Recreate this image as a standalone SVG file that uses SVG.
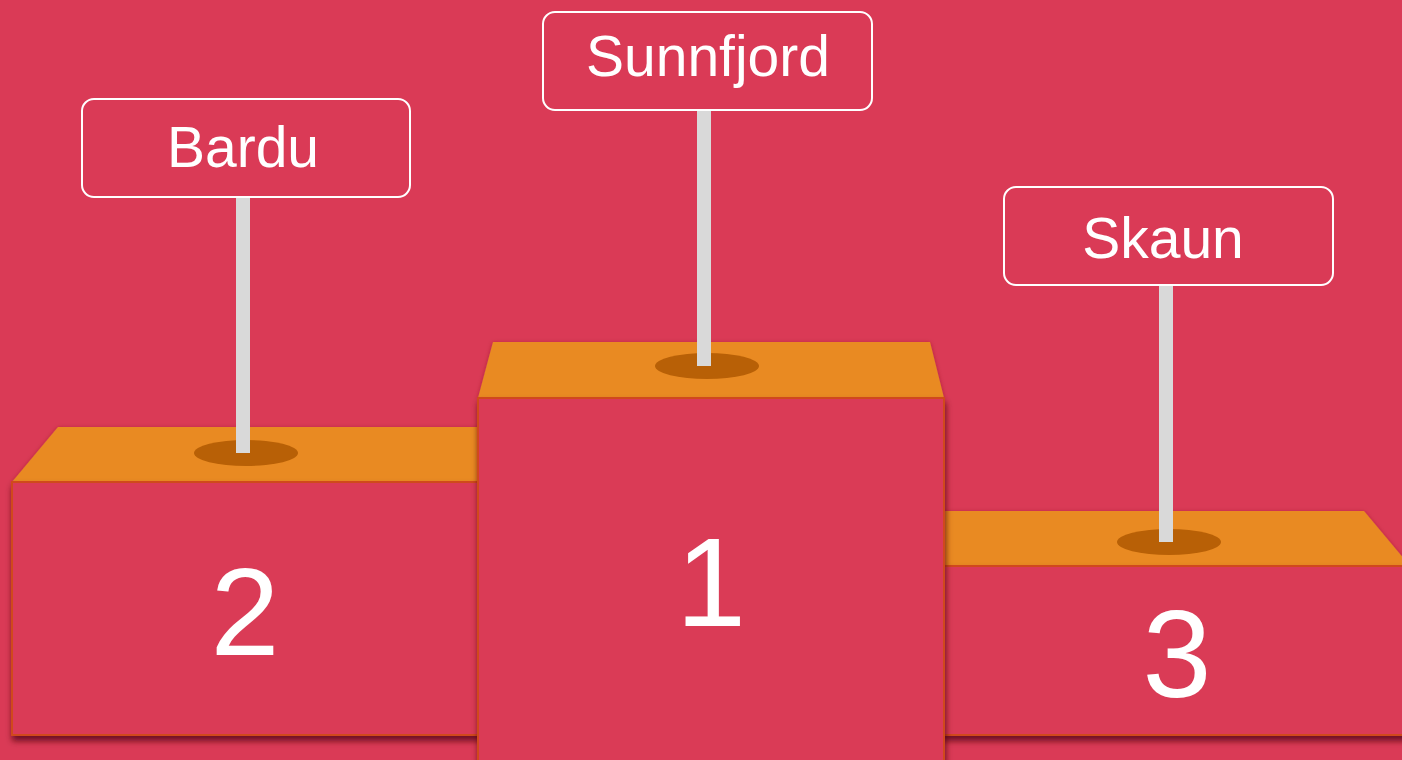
<svg xmlns="http://www.w3.org/2000/svg" width="1402" height="760" viewBox="0 0 1402 760">
<style>
.top{fill:#E98A24;}
.front{fill:#DA3A56;stroke:#D0491A;stroke-width:2;}
.hole{fill:#B86006;}
.pole{fill:#D9D9D9;}
.sign{fill:#DA3A56;stroke:#FFFFFF;stroke-width:2;}
.lbl{font-family:"Liberation Sans",Arial,sans-serif;font-size:57px;fill:#FFFFFF;text-anchor:middle;}
.num{font-family:"Liberation Sans",Arial,sans-serif;font-size:124px;fill:#FFFFFF;text-anchor:middle;}
</style>
<defs>
<filter id="sh" x="-10%" y="-10%" width="120%" height="130%">
<feDropShadow dx="1" dy="5" stdDeviation="3" flood-color="#4a0614" flood-opacity="0.75"/>
</filter>
<filter id="sh2" x="-10%" y="-10%" width="120%" height="130%">
<feDropShadow dx="0" dy="1" stdDeviation="2" flood-color="#7a1020" flood-opacity="0.5"/>
</filter>
</defs>
<rect width="1402" height="760" fill="#DA3A56"/>
<g id="podium-2">
<polygon class="top" points="58,427 490,427 490,482 12,482" filter="url(#sh2)"/>
<rect class="front" x="12" y="482" width="478" height="253" filter="url(#sh)"/>
<ellipse class="hole" cx="246" cy="453" rx="52" ry="13"/>
<text class="num" x="245" y="655">2</text>
</g>
<g id="podium-3">
<polygon class="top" points="930,511 1364,511 1410,566 930,566" filter="url(#sh2)"/>
<rect class="front" x="930" y="566" width="480" height="169" filter="url(#sh)"/>
<ellipse class="hole" cx="1169" cy="542" rx="52" ry="13"/>
<text class="num" x="1177" y="697">3</text>
</g>
<g id="podium-1">
<polygon class="top" points="493,342 930,342 944,398 478,398" filter="url(#sh2)"/>
<rect class="front" x="478" y="398" width="466" height="380" filter="url(#sh)"/>
<ellipse class="hole" cx="707" cy="366" rx="52" ry="13"/>
<text class="num" x="711" y="626" style="font-size:126px">1</text>
</g>
<g id="connectors">
<rect class="pole" x="236" y="198" width="14" height="255"/>
<rect class="pole" x="697" y="111" width="14" height="255"/>
<rect class="pole" x="1159" y="286" width="14" height="256"/>
</g>
<g id="sign-bardu">
<rect class="sign" x="82" y="99" width="328" height="98" rx="12"/>
<text class="lbl" x="243" y="167">Bardu</text>
</g>
<g id="sign-sunnfjord">
<rect class="sign" x="543" y="12" width="329" height="98" rx="12"/>
<text class="lbl" x="708" y="76">Sunnfjord</text>
</g>
<g id="sign-skaun">
<rect class="sign" x="1004" y="187" width="329" height="98" rx="12"/>
<text class="lbl" x="1163" y="258">Skaun</text>
</g>
</svg>
